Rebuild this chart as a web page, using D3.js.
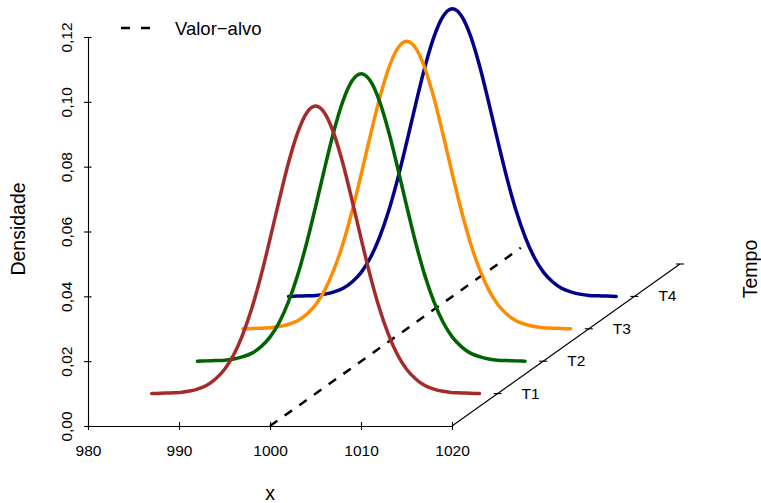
<!DOCTYPE html>
<html>
<head>
<meta charset="utf-8">
<script src="https://cdn.jsdelivr.net/npm/d3@7"></script>
<style>
  body { margin: 0; background: #fff; }
  text { font-family: "Liberation Sans", Arial, sans-serif; fill: #000; }
</style>
</head>
<body>
<div id="chart-area"></div>
<script>
// dados
var tempos = ["T1", "T2", "T3", "T4"];
var posTempo = [1, 2, 3, 4];
var valorAlvo = 1000;
var alvoProf = [0, 5.5];
var xVals = [982, 983, 984, 985, 986, 987, 988, 989, 990, 991, 992, 993, 994, 995, 996, 997, 998, 999, 1000,
             1001, 1002, 1003, 1004, 1005, 1006, 1007, 1008, 1009, 1010, 1011, 1012, 1013, 1014, 1015, 1016, 1017, 1018];
var densidade = [0.0000, 0.0001, 0.0002, 0.0003, 0.0007, 0.0014, 0.0025, 0.0045, 0.0075, 0.0120, 0.0183, 0.0264,
                 0.0364, 0.0478, 0.0597, 0.0710, 0.0803, 0.0865, 0.0887,
                 0.0865, 0.0803, 0.0710, 0.0597, 0.0478, 0.0364, 0.0264, 0.0183, 0.0120, 0.0075, 0.0045,
                 0.0025, 0.0014, 0.0007, 0.0003, 0.0002, 0.0001, 0.0000];
var xTicks = [980, 990, 1000, 1010, 1020];
var yTicks = [0, 0.02, 0.04, 0.06, 0.08, 0.10, 0.12];
var profTicks = [1, 2, 3, 4, 5];

var cores = ["#A52A2A", "#006400", "#FF8C00", "#00008B"];

var svg = d3.select("#chart-area").append("svg")
    .attr("width", 761)
    .attr("height", 503);

var x = d3.scaleLinear().domain([980, 1020]).range([88, 452]);
var y = d3.scaleLinear().domain([0, 0.12]).range([426, 37]);
// eixo de profundidade (oblíquo)
var profX = d3.scaleLinear().domain([0, 5]).range([0, 228]);
var profY = d3.scaleLinear().domain([0, 5]).range([0, -162]);

var br = d3.formatLocale({decimal: ",", thousands: ".", grouping: [3], currency: ["", ""]});
var fmt = br.format(".2f");

// eixo y
var yAxis = svg.append("g")
    .attr("transform", "translate(88,0)")
    .call(d3.axisLeft(y).tickValues(yTicks).tickSize(4).tickSizeOuter(0).tickFormat(fmt));
yAxis.selectAll(".tick line").attr("x1", 3.5);
yAxis.selectAll(".tick text")
    .attr("x", null).attr("dy", null)
    .attr("transform", "translate(-16,0) rotate(-90)")
    .attr("text-anchor", "middle")
    .style("font-size", "15.5px");

// eixo x
var xAxis = svg.append("g")
    .attr("transform", "translate(0,426)")
    .call(d3.axisBottom(x).tickValues(xTicks).tickSize(4).tickSizeOuter(0).tickFormat(d3.format("d")));
xAxis.selectAll(".tick line").attr("y1", -4);
xAxis.selectAll(".tick text")
    .attr("y", 30).attr("dy", null)
    .style("font-size", "15.5px");
svg.selectAll(".domain").attr("stroke", "#000").attr("stroke-width", 1.1);
svg.selectAll(".tick line").attr("stroke", "#000").attr("stroke-width", 1.1);
svg.selectAll("g").attr("font-family", null).attr("font-size", null);

// eixo Tempo
svg.append("line")
    .attr("x1", x(1020) + profX(0)).attr("y1", y(0) + profY(0))
    .attr("x2", x(1020) + profX(5)).attr("y2", y(0) + profY(5))
    .attr("stroke", "#000").attr("stroke-width", 1.1);
svg.selectAll(".ptick").data(profTicks).enter()
    .append("line")
    .attr("x1", (d) => x(1020) + profX(d) - 4)
    .attr("x2", (d) => x(1020) + profX(d) + 4)
    .attr("y1", (d) => y(0) + profY(d))
    .attr("y2", (d) => y(0) + profY(d))
    .attr("stroke", "#000").attr("stroke-width", 1.1);
svg.selectAll(".plabel").data(posTempo).enter()
    .append("text")
    .attr("x", (d) => x(1020) + profX(d) + 24)
    .attr("y", (d) => y(0) + profY(d) + 5)
    .style("font-size", "15.5px")
    .text((d, i) => tempos[i]);

// linha do valor-alvo
svg.append("line")
    .attr("x1", x(valorAlvo) + profX(alvoProf[0])).attr("y1", y(0) + profY(alvoProf[0]))
    .attr("x2", x(valorAlvo) + profX(alvoProf[1])).attr("y2", y(0) + profY(alvoProf[1]))
    .attr("stroke", "#000").attr("stroke-width", 2.5)
    .attr("stroke-dasharray", "9,9");

// curvas de densidade (de tras para frente)
var pontos = xVals.map((v, i) => ({x: v, d: densidade[i]}));
var ordem = posTempo.map((t, i) => i).reverse();
ordem.forEach((i) => {
    var t = posTempo[i];
    var linha = d3.line()
        .x((p) => x(p.x) + profX(t))
        .y((p) => y(p.d) + profY(t))
        .curve(d3.curveMonotoneX);
    svg.append("path")
        .datum(pontos)
        .attr("d", linha)
        .attr("fill", "none")
        .attr("stroke", cores[i])
        .attr("stroke-width", 3.5)
        .attr("stroke-linecap", "round");
});

// titulos
svg.append("text")
    .attr("x", 270).attr("y", 500)
    .attr("text-anchor", "middle")
    .style("font-size", "19.5px")
    .text("x");
svg.append("text")
    .attr("transform", "translate(25,229) rotate(-90)")
    .attr("text-anchor", "middle")
    .style("font-size", "19.5px")
    .text("Densidade");
svg.append("text")
    .attr("transform", "translate(756.5,269) rotate(-90)")
    .attr("text-anchor", "middle")
    .style("font-size", "19.5px")
    .text("Tempo");

// legenda
svg.append("line")
    .attr("x1", 121).attr("x2", 152)
    .attr("y1", 28).attr("y2", 28)
    .attr("stroke", "#000").attr("stroke-width", 2.5)
    .attr("stroke-dasharray", "9,11");
svg.append("text")
    .attr("x", 175).attr("y", 35)
    .style("font-size", "18.5px")
    .text("Valor\u2212alvo");
</script>
</body>
</html>
